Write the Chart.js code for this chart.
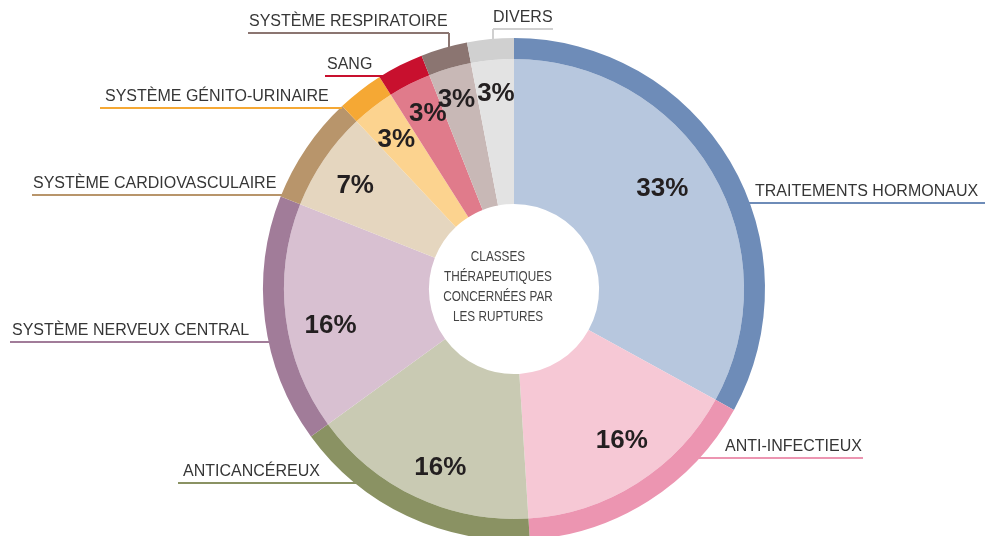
<!DOCTYPE html>
<html lang="fr">
<head>
<meta charset="utf-8">
<title>Classes thérapeutiques concernées par les ruptures</title>
<script src="https://cdn.jsdelivr.net/npm/chart.js@4.4.1/dist/chart.umd.min.js"></script>
<style>
  html, body { margin: 0; padding: 0; background: #fff; }
  #wrap { width: 985px; height: 536px; }
</style>
</head>
<body>
<div id="wrap"><canvas id="chart" width="985" height="536"></canvas></div>
<script>
// ===== Données =====
const categories = [
  'TRAITEMENTS HORMONAUX',
  'ANTI-INFECTIEUX',
  'ANTICANCÉREUX',
  'SYSTÈME NERVEUX CENTRAL',
  'SYSTÈME CARDIOVASCULAIRE',
  'SYSTÈME GÉNITO-URINAIRE',
  'SANG',
  'SYSTÈME RESPIRATOIRE',
  'DIVERS'
];
const shares = [33, 16, 16, 16, 7, 3, 3, 3, 3];
const centerTitle = ['CLASSES', 'THÉRAPEUTIQUES', 'CONCERNÉES PAR', 'LES RUPTURES'];

// ===== Couleurs =====
const lightColors = ['#b7c7de', '#f6c8d5', '#c9cab3', '#d8c0d1', '#e5d6bf', '#fcd38f', '#e07b8b', '#c8b8b6', '#e3e3e3'];
const darkColors  = ['#6e8cb8', '#ec95b1', '#8a9263', '#a17c99', '#b8956b', '#f5a834', '#c8102e', '#8b7571', '#d0d0d0'];

// --- Placement des étiquettes extérieures (ligne de rappel + texte) ---
// side: côté du cercle ; lineY: hauteur du trait ; end: bout libre du trait ; textX: début du texte
const labelLayout = [
  { side: 'right', lineY: 203, end: 985, textX: 755 },
  { side: 'right', lineY: 458, end: 863, textX: 725 },
  { side: 'left',  lineY: 483, end: 178, textX: 183 },
  { side: 'left',  lineY: 342, end: 10,  textX: 12 },
  { side: 'left',  lineY: 195, end: 32,  textX: 33 },
  { side: 'left',  lineY: 108, end: 100, textX: 105 },
  { side: 'left',  lineY: 76,  end: 325, textX: 327 },
  { side: 'top',   lineY: 33,  from: 248, to: 449, dropX: 449, textX: 249 },
  { side: 'top',   lineY: 29,  from: 493, to: 553, dropX: 493, textX: 493 }
];
// petits décalages des pourcentages (px) par rapport au milieu du secteur
const pctNudge = [[-17, -2], [5, -10], [8, 5], [7, 13], [0, 5], [0, 3], [1, -4], [-4, -5], [0, -4]];

// ===== Plugin : pourcentages, étiquettes et titre central =====
const labelsPlugin = {
  id: 'labels',
  afterDatasetsDraw(chart) {
    const ctx = chart.ctx;
    const outer = chart.getDatasetMeta(0).data;
    const inner = chart.getDatasetMeta(1).data;
    if (!outer.length) return;
    const cx = outer[0].x, cy = outer[0].y, R = outer[0].outerRadius;

    // pourcentages dans les secteurs
    ctx.save();
    ctx.font = 'bold 26px "Liberation Sans", Arial, sans-serif';
    ctx.fillStyle = '#231f20';
    ctx.textAlign = 'center';
    ctx.textBaseline = 'middle';
    inner.forEach((arc, i) => {
      const a = (arc.startAngle + arc.endAngle) / 2;
      const r = R * 0.765;
      const [nx, ny] = pctNudge[i];
      ctx.fillText(shares[i] + '%', cx + r * Math.cos(a) + nx, cy + r * Math.sin(a) + ny);
    });
    ctx.restore();

    // étiquettes extérieures
    ctx.save();
    ctx.font = '16px "Liberation Sans", Arial, sans-serif';
    ctx.textBaseline = 'alphabetic';
    ctx.textAlign = 'left';
    labelLayout.forEach((L, i) => {
      ctx.strokeStyle = darkColors[i];
      ctx.lineWidth = 2;
      ctx.beginPath();
      if (L.side === 'top') {
        const ringY = cy - Math.sqrt(R * R - (L.dropX - cx) ** 2);
        ctx.moveTo(L.from, L.lineY);
        ctx.lineTo(L.to, L.lineY);
        ctx.moveTo(L.dropX, L.lineY);
        ctx.lineTo(L.dropX, ringY + 2);
      } else {
        const dx = Math.sqrt(Math.max(R * R - (L.lineY - cy) ** 2, 0));
        const ringX = L.side === 'right' ? cx + dx - 2 : cx - dx + 2;
        ctx.moveTo(ringX, L.lineY);
        ctx.lineTo(L.end, L.lineY);
      }
      ctx.stroke();
      ctx.fillStyle = '#363636';
      ctx.fillText(categories[i], L.textX, L.lineY - 7);
    });
    ctx.restore();

    // titre central
    ctx.save();
    ctx.font = '14px "Liberation Sans", Arial, sans-serif';
    ctx.fillStyle = '#444';
    ctx.textAlign = 'center';
    ctx.textBaseline = 'alphabetic';
    const tx = cx - 16;
    centerTitle.forEach((line, k) => {
      ctx.save();
      ctx.translate(tx, cy - 28 + k * 20);
      ctx.scale(0.84, 1);
      ctx.fillText(line, 0, 0);
      ctx.restore();
    });
    ctx.restore();
  }
};

// ===== Graphique =====
const ctx = document.getElementById('chart').getContext('2d');
new Chart(ctx, {
  type: 'doughnut',
  data: {
    labels: categories,
    datasets: [
      { data: shares, backgroundColor: darkColors, borderWidth: 0, weight: 21 },
      { data: shares, backgroundColor: lightColors, borderWidth: 0, weight: 145 }
    ]
  },
  options: {
    responsive: false,
    animation: false,
    events: [],
    radius: 251,
    cutout: '33.9%',
    hoverOffset: 0,
    layout: { padding: { top: 42, left: 43, right: 0, bottom: 0 } },
    plugins: {
      legend: { display: false },
      tooltip: { enabled: false }
    }
  },
  plugins: [labelsPlugin]
});
</script>
</body>
</html>
